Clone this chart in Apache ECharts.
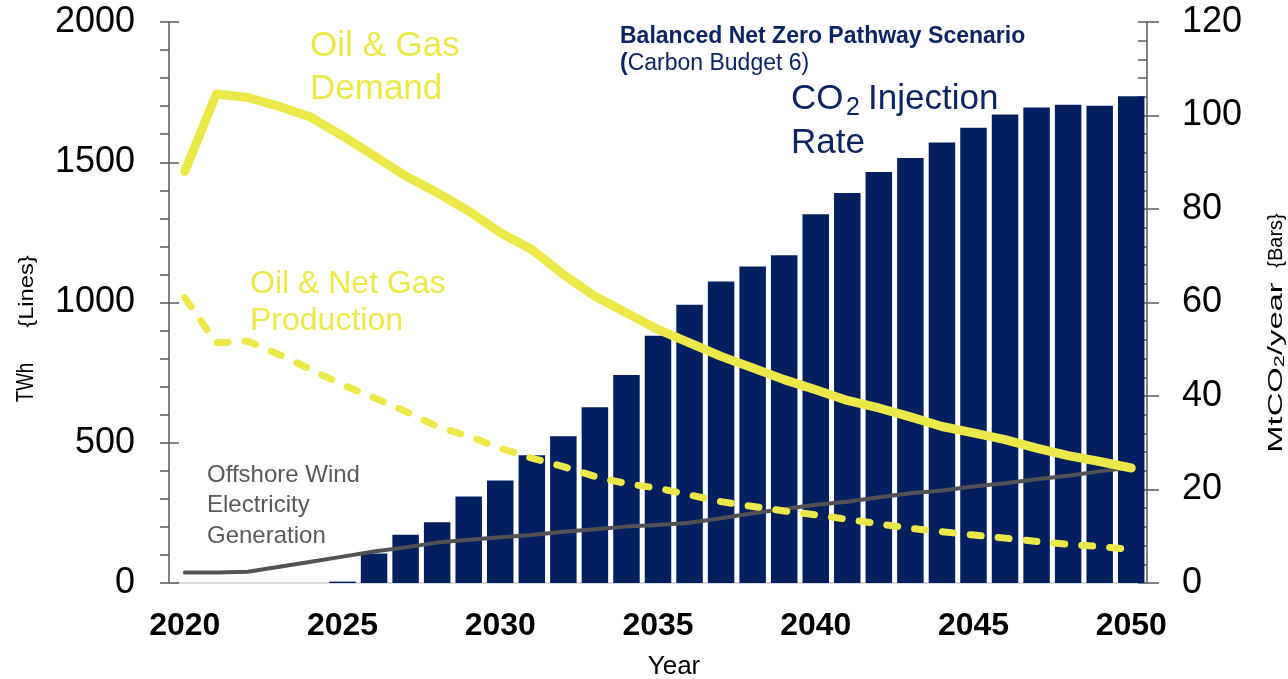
<!DOCTYPE html>
<html>
<head>
<meta charset="utf-8">
<script src="https://cdn.jsdelivr.net/npm/echarts@6/dist/echarts.min.js"></script>
<style>
html,body{margin:0;padding:0;background:#fff;}
#chart{width:1288px;height:679px;}
</style>
</head>
<body>
<div id="chart"></div>
<script>
// ---- data ----
const years = ['2020','2021','2022','2023','2024','2025','2026','2027','2028','2029','2030',
  '2031','2032','2033','2034','2035','2036','2037','2038','2039','2040',
  '2041','2042','2043','2044','2045','2046','2047','2048','2049','2050'];
// CO2 injection rate, MtCO2/year (bars, right axis)
const co2Injection = [0,0,0,0,0,0.3,6.3,10.3,13.0,18.5,21.9,27.3,31.4,37.6,44.5,52.9,59.5,64.5,67.7,70.1,78.9,
  83.4,87.9,90.9,94.2,97.4,100.2,101.7,102.3,102.1,104.1];
// Oil & gas demand, TWh (solid yellow line)
const oilGasDemand = [1468,1743,1731,1699,1660,1594,1523,1451,1392,1326,1249,1189,1100,1022,963,904,856,808,767,725,689,
  651,624,592,558,535,511,481,454,433,410];
// Oil & net gas production, TWh (dashed yellow line)
const oilNetGasProduction = [1017,856,862,814,761,707,660,612,558,523,481,445,415,380,354,338,314,290,273,257,243,
  227,211,195,183,171,160,148,138,130,120];
// Offshore wind electricity generation, TWh (grey line)
const offshoreWind = [37,37,40,58,76,94,112,127,144,154,163,171,183,192,201,207,215,231,249,264,279,
  290,306,320,330,344,356,370,382,398,412];
const leftTicks = {min:0, max:2000, interval:500};
const rightTicks = {min:0, max:120, interval:20};

const FONT = "'Liberation Sans', Arial, sans-serif";
const NAVY = '#02205F';
const TEXTNAVY = '#0C2461';
const YELLOW = '#EDE84A';
const GREY = '#535151';
const AXIS = '#595959';

const gridRect = {left:169, right:141, top:22, bottom:96};
const plain = v => String(v);

const chart = echarts.init(document.getElementById('chart'), null, {renderer:'canvas'});
chart.setOption({
  animation:false,
  backgroundColor:'#fff',
  grid:[Object.assign({}, gridRect), Object.assign({}, gridRect)],
  xAxis:[
    {gridIndex:0, type:'category', data:years, boundaryGap:true,
     axisLine:{show:true, lineStyle:{color:'#D9D9D9', width:2}},
     axisTick:{show:false},
     axisLabel:{interval:4, fontSize:32, fontWeight:'bold', color:'#000', margin:27, fontFamily:FONT},
     splitLine:{show:false}},
    {gridIndex:1, type:'category', data:years, show:false}
  ],
  yAxis:[
    {gridIndex:0, type:'value', position:'left', min:leftTicks.min, max:leftTicks.max, interval:leftTicks.interval,
     axisLine:{show:true, lineStyle:{color:AXIS, width:1.5}},
     axisTick:{show:true, inside:false, length:9, lineStyle:{color:AXIS, width:1.5}},
     minorTick:{show:true, splitNumber:5, length:9, lineStyle:{color:AXIS, width:1.5}},
     splitLine:{show:false},
     axisLabel:{fontSize:36, color:'#000', margin:34, fontFamily:FONT, formatter:plain}},
    {gridIndex:0, type:'value', position:'right', min:rightTicks.min, max:rightTicks.max, interval:rightTicks.interval,
     axisLine:{show:true, lineStyle:{color:AXIS, width:1.5}},
     axisTick:{show:true, inside:true, length:9, lineStyle:{color:AXIS, width:1.5}},
     minorTick:{show:true, splitNumber:5, length:9, lineStyle:{color:AXIS, width:1.5}},
     splitLine:{show:false},
     axisLabel:{fontSize:36, color:'#000', margin:35, fontFamily:FONT, formatter:plain}},
    {gridIndex:1, type:'value', position:'left', min:leftTicks.min, max:leftTicks.max, interval:leftTicks.interval,
     axisLine:{show:false},
     axisTick:{show:true, inside:true, length:10, lineStyle:{color:AXIS, width:1.5}},
     axisLabel:{show:false}, splitLine:{show:false}},
    {gridIndex:1, type:'value', position:'right', min:rightTicks.min, max:rightTicks.max, interval:rightTicks.interval,
     axisLine:{show:false},
     axisTick:{show:true, inside:false, length:12, lineStyle:{color:AXIS, width:1.5}},
     axisLabel:{show:false}, splitLine:{show:false}}
  ],
  series:[
    {name:'CO2 Injection Rate', type:'bar', xAxisIndex:0, yAxisIndex:1, data:co2Injection,
     barCategoryGap:'16%', itemStyle:{color:NAVY}, z:2},
    {name:'Offshore Wind', type:'line', xAxisIndex:0, yAxisIndex:0, data:offshoreWind,
     symbol:'none', lineStyle:{color:GREY, width:4, cap:'round', join:'round'}, z:3},
    {name:'Oil & Net Gas Production', type:'line', xAxisIndex:0, yAxisIndex:0, data:oilNetGasProduction,
     symbol:'none', lineStyle:{color:YELLOW, width:7, type:[11,17], cap:'round', join:'round'}, z:4},
    {name:'Oil & Gas Demand', type:'line', xAxisIndex:0, yAxisIndex:0, data:oilGasDemand,
     symbol:'none', lineStyle:{color:YELLOW, width:9, cap:'round', join:'round'}, z:5}
  ],
  graphic:[
    {type:'text', x:310, y:24.5, z:10, style:{text:'Oil & Gas\nDemand', fill:YELLOW, fontSize:35, fontFamily:FONT,
      lineHeight:43, align:'left', verticalAlign:'top'}},
    {type:'text', x:250, y:265, z:10, style:{text:'Oil & Net Gas\nProduction', fill:YELLOW, fontSize:32, fontFamily:FONT,
      lineHeight:37.5, align:'left', verticalAlign:'top'}},
    {type:'text', x:207, y:460, z:10, style:{text:'Offshore Wind\nElectricity\nGeneration', fill:'#595959', fontSize:24,
      fontFamily:FONT, lineHeight:30.5, align:'left', verticalAlign:'top'}},
    {type:'text', x:620, y:36.5, z:10, style:{text:'Balanced Net Zero Pathway Scenario', fill:TEXTNAVY, fontSize:23,
      fontWeight:'bold', fontFamily:FONT, align:'left', verticalAlign:'middle'}},
    {type:'text', x:620, y:63.5, z:10, style:{text:'{b|(}Carbon Budget 6)', fill:TEXTNAVY, fontSize:23,
      fontFamily:FONT, align:'left', verticalAlign:'middle',
      rich:{b:{fontWeight:'bold', fontSize:23, fontFamily:FONT, fill:TEXTNAVY}}}},
    {type:'text', x:791, y:99.5, z:10, style:{text:'CO', fill:TEXTNAVY, fontSize:35, fontFamily:FONT,
      align:'left', verticalAlign:'middle'}},
    {type:'text', x:846, y:108.5, z:10, style:{text:'2', fill:TEXTNAVY, fontSize:25, fontFamily:FONT,
      align:'left', verticalAlign:'middle'}},
    {type:'text', x:868, y:99.5, z:10, style:{text:'Injection', fill:TEXTNAVY, fontSize:35, fontFamily:FONT,
      align:'left', verticalAlign:'middle'}},
    {type:'text', x:791, y:143.5, z:10, style:{text:'Rate', fill:TEXTNAVY, fontSize:35, fontFamily:FONT,
      align:'left', verticalAlign:'middle'}},
    {type:'text', x:674, y:667, z:10, style:{text:'Year', fill:'#000', fontSize:26, fontFamily:FONT,
      align:'center', verticalAlign:'middle'}},
    {type:'text', x:26.5, y:382.5, rotation:Math.PI/2, scaleX:0.78, z:10, style:{text:'TWh', fill:'#000', fontSize:24,
      fontFamily:FONT, align:'center', verticalAlign:'middle'}},
    {type:'text', x:27.5, y:291.5, rotation:Math.PI/2, scaleX:1.13, z:10, style:{text:'{Lines}', fill:'#000', fontSize:21,
      fontFamily:FONT, align:'center', verticalAlign:'middle'}},
    {type:'text', x:1276, y:367.5, rotation:Math.PI/2, scaleX:1.56, z:10, style:{
      text:'{m|MtCO}{s|2}{m|/year}', fill:'#000', fontSize:21, fontFamily:FONT,
      align:'center', verticalAlign:'middle',
      rich:{
        m:{fontSize:21, fontFamily:FONT, fill:'#000', lineHeight:23, verticalAlign:'middle'},
        s:{fontSize:14, fontFamily:FONT, fill:'#000', lineHeight:14, verticalAlign:'bottom'}
      }}},
    {type:'text', x:1276.5, y:240.5, rotation:Math.PI/2, z:10, style:{text:'{Bars}', fill:'#000', fontSize:20,
      fontFamily:FONT, align:'center', verticalAlign:'middle'}}
  ]
});
</script>
</body>
</html>
